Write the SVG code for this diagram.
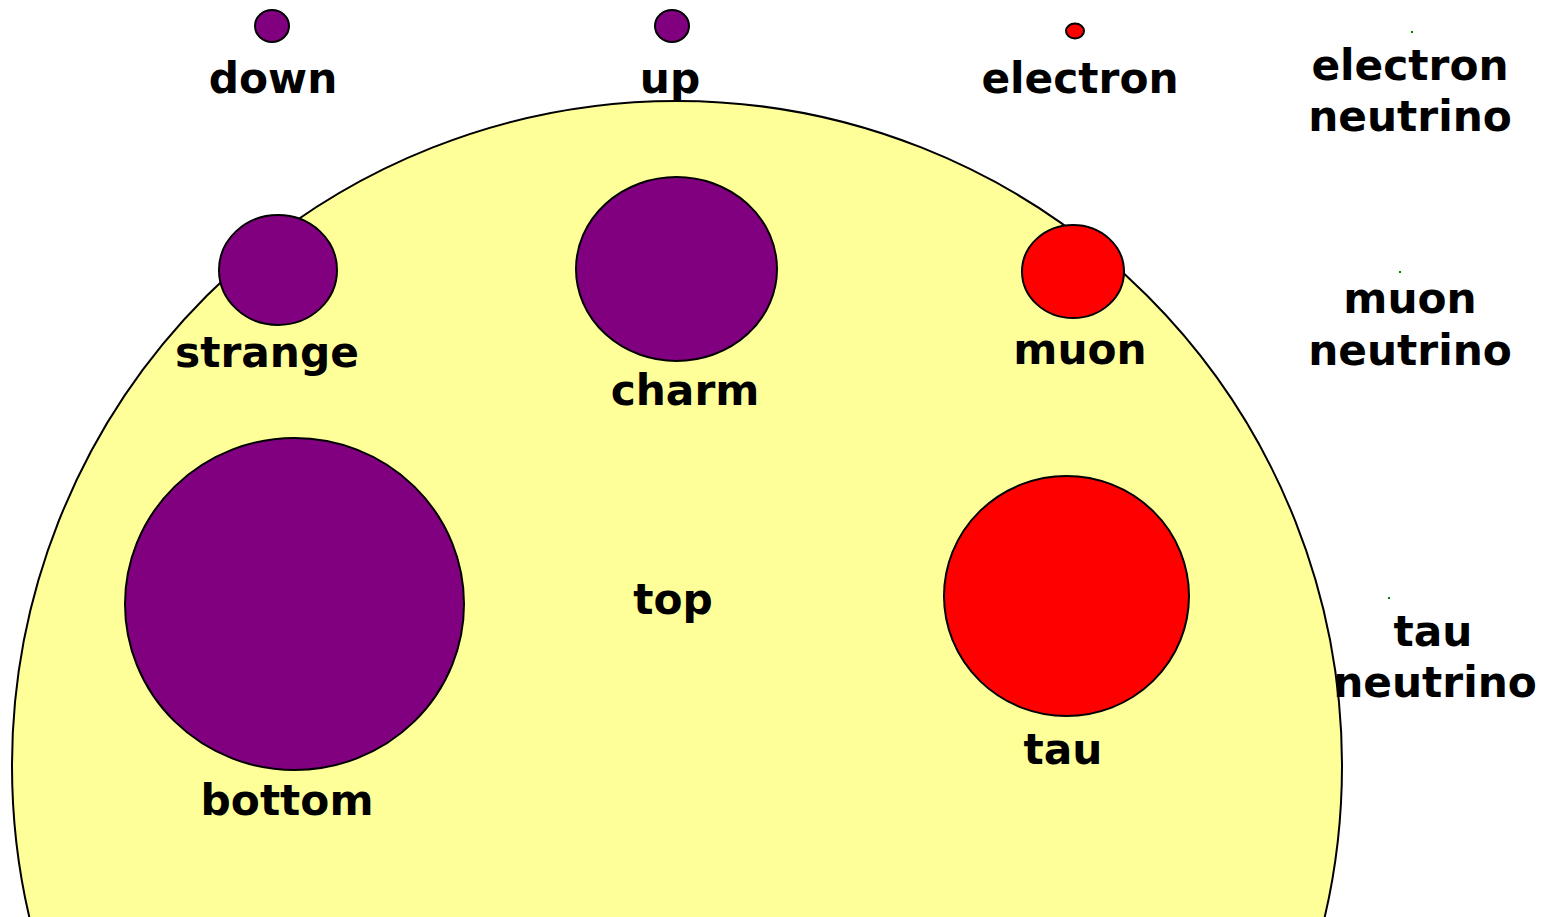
<svg xmlns="http://www.w3.org/2000/svg" width="1543" height="917" viewBox="0 0 1543 917">
  <style>
    .lbl { font-family: "DejaVu Sans", Verdana, sans-serif; font-weight: bold; font-size: 42.3px; fill: #000; text-anchor: middle; }
    .quark { fill: #800080; stroke: #000; stroke-width: 2; }
    .lepton { fill: #ff0000; stroke: #000; stroke-width: 2; }
    .nu { fill: #008000; }
  </style>
  <rect width="1543" height="917" fill="#fff"/>

  <!-- large background disc for the top quark -->
  <g id="top">
    <circle cx="677" cy="766" r="665" fill="#ffff99" stroke="#000" stroke-width="2"/>
    <text class="lbl" x="673" y="614">top</text>
  </g>

  <g id="down">
    <ellipse class="quark" cx="272" cy="26" rx="17" ry="16"/>
    <text class="lbl" x="273" y="93">down</text>
  </g>
  <g id="up">
    <ellipse class="quark" cx="672" cy="26" rx="17" ry="16"/>
    <text class="lbl" x="670" y="93">up</text>
  </g>
  <g id="electron">
    <ellipse class="lepton" cx="1075" cy="31" rx="9" ry="7.5"/>
    <text class="lbl" x="1080" y="93">electron</text>
  </g>
  <g id="electron-neutrino">
    <rect class="nu" x="1411" y="31" width="2" height="2"/>
    <text class="lbl" x="1410" y="80">electron</text>
    <text class="lbl" x="1410" y="131">neutrino</text>
  </g>

  <g id="strange">
    <ellipse class="quark" cx="278" cy="270" rx="59" ry="55"/>
    <text class="lbl" x="267" y="367">strange</text>
  </g>
  <g id="charm">
    <ellipse class="quark" cx="676.5" cy="269" rx="100.5" ry="92"/>
    <text class="lbl" x="685" y="405">charm</text>
  </g>
  <g id="muon">
    <ellipse class="lepton" cx="1073" cy="271.5" rx="51" ry="46.5"/>
    <text class="lbl" x="1080" y="364">muon</text>
  </g>
  <g id="muon-neutrino">
    <rect class="nu" x="1399" y="271" width="2" height="2"/>
    <text class="lbl" x="1410" y="313">muon</text>
    <text class="lbl" x="1410" y="365">neutrino</text>
  </g>

  <g id="bottom">
    <ellipse class="quark" cx="294.5" cy="604" rx="169.5" ry="166"/>
    <text class="lbl" x="287" y="815">bottom</text>
  </g>
  <g id="tau">
    <ellipse class="lepton" cx="1066.5" cy="596" rx="122.5" ry="120"/>
    <text class="lbl" x="1063" y="764">tau</text>
  </g>
  <g id="tau-neutrino">
    <rect class="nu" x="1388" y="597" width="2" height="2"/>
    <text class="lbl" x="1433" y="646">tau</text>
    <text class="lbl" x="1435" y="697">neutrino</text>
  </g>

  <g id="connectors"/>
</svg>
